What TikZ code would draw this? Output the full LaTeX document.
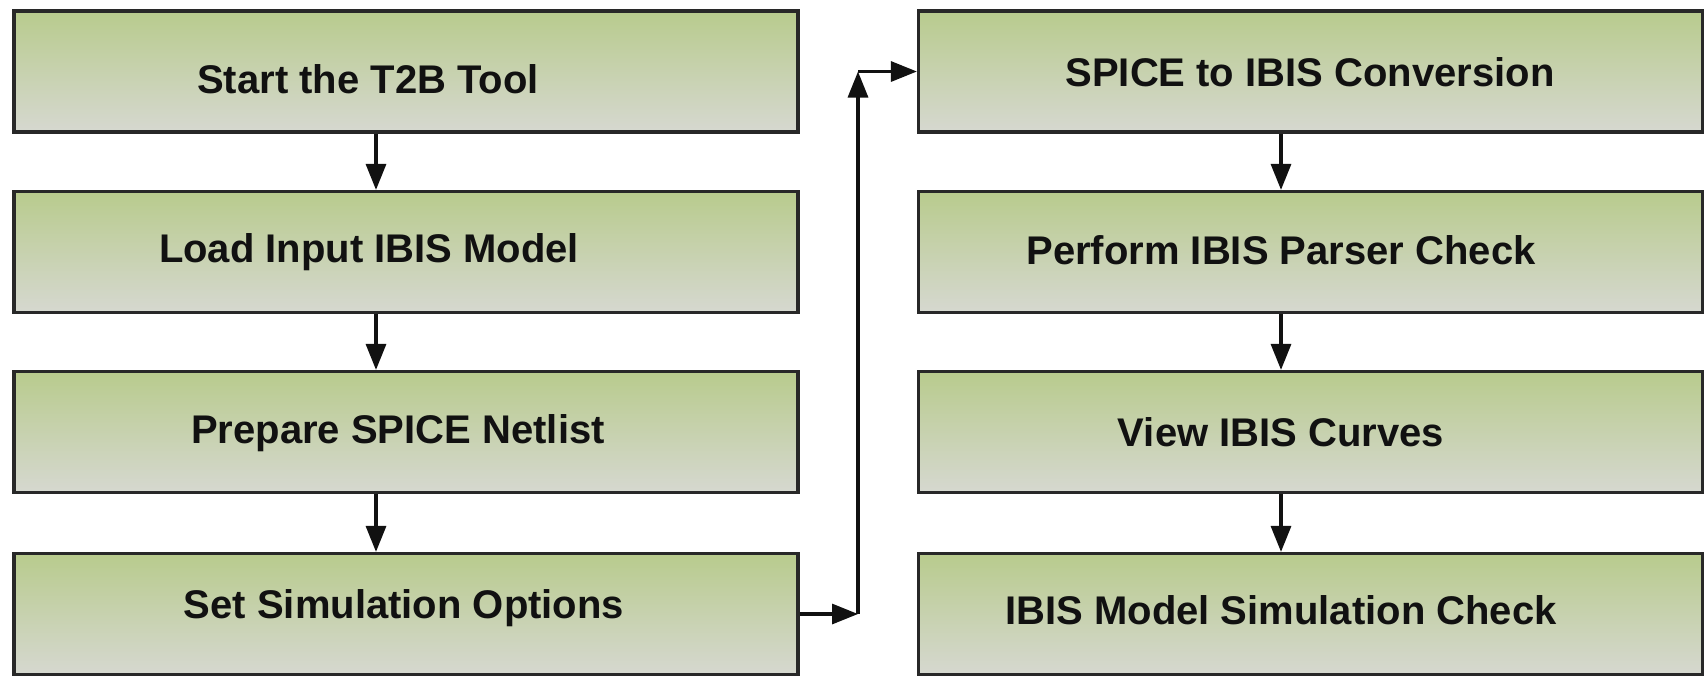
\documentclass[tikz,border=0pt]{standalone}
\usepackage{fontspec}
\setmainfont{Liberation Sans}
\usetikzlibrary{arrows.meta}

\definecolor{boxtop}{RGB}{184,203,141}
\definecolor{boxbottom}{RGB}{214,216,208}
\definecolor{edge}{RGB}{40,40,40}
\definecolor{ink}{RGB}{17,17,17}

\tikzset{
  stepbox/.style={draw=edge, line width=1.6pt, rectangle, inner sep=0pt,
    minimum width=392pt, minimum height=60.5pt,
    top color=boxtop, bottom color=boxbottom},
  lbl/.style={anchor=base, inner sep=0pt, text=ink,
    font=\fontsize{20}{24}\selectfont\bfseries},
  flow/.style={draw=ink, line width=1.6pt,
    -{Triangle[length=13pt,width=10pt]}}
}

\begin{document}
\begin{tikzpicture}[x=0.5pt, y=-0.5pt]
  \useasboundingbox (0,0) rectangle (1708,677);

  % left column
  \node[stepbox] (L1) at (406,71.5) {};
  \node[stepbox] (L2) at (406,252) {};
  \node[stepbox] (L3) at (406,432) {};
  \node[stepbox] (L4) at (406,614) {};

  % right column
  \node[stepbox] (R1) at (1310.5,71.5) {};
  \node[stepbox] (R2) at (1310.5,252) {};
  \node[stepbox] (R3) at (1310.5,432) {};
  \node[stepbox] (R4) at (1310.5,614) {};

  % captions
  \node[lbl] (tL1) at (368,93)  {Start the T2B Tool};
  \node[lbl] (tL2) at (369,262) {Load Input IBIS Model};
  \node[lbl] (tL3) at (398,443) {Prepare SPICE Netlist};
  \node[lbl] (tL4) at (404,618) {Set Simulation Options};
  \node[lbl] (tR1) at (1310,86)  {SPICE to IBIS Conversion};
  \node[lbl] (tR2) at (1281,264) {Perform IBIS Parser Check};
  \node[lbl] (tR3) at (1281,446) {View IBIS Curves};
  \node[lbl] (tR4) at (1281,624) {IBIS Model Simulation Check};

  % arrow columns and the turn between the two columns
  \coordinate (lx) at (376,0);
  \coordinate (rx) at (1281,0);
  \coordinate (c1) at (858,614);
  \coordinate (c2) at (858,71.5);

  \draw[flow] (L1.south -| lx) -- (L2.north -| lx);
  \draw[flow] (L2.south -| lx) -- (L3.north -| lx);
  \draw[flow] (L3.south -| lx) -- (L4.north -| lx);

  \draw[flow] (L4.east) -- (c1);
  \draw[flow] (c1) -- (c2);
  \draw[flow] (c2) -- (R1.west);

  \draw[flow] (R1.south -| rx) -- (R2.north -| rx);
  \draw[flow] (R2.south -| rx) -- (R3.north -| rx);
  \draw[flow] (R3.south -| rx) -- (R4.north -| rx);
\end{tikzpicture}
\end{document}
